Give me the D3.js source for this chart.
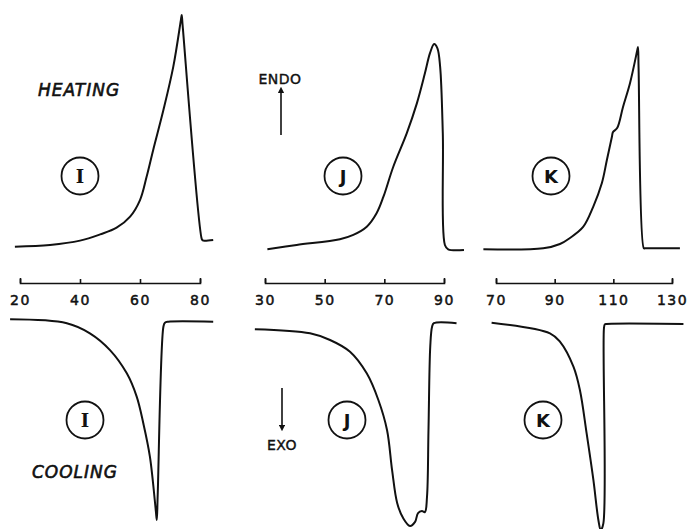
<!DOCTYPE html>
<html>
<head>
<meta charset="utf-8">
<script src="https://cdnjs.cloudflare.com/ajax/libs/d3/7.8.5/d3.min.js"></script>
<style>
body { margin: 0; background: #fff; }
text { fill: #111; }
</style>
</head>
<body>
<div id="chart"></div>
<script>
// tick labels (deg C) of the three temperature axes
var ticksI = [20, 40, 60, 80];
var ticksJ = [30, 50, 70, 90];
var ticksK = [70, 90, 110, 130];

// heating traces, [temperature, heat flow (arb. units, endo up)]
var heatI = [[18.3,1.4],[30,2.1],[40,3.9],[46.7,6.5],[52.2,9.3],[56.7,13.9],[60,20.8],[62.2,30.5],
    [64.4,41.7],[67.8,58.3],[71.1,76.4],[73.6,95.6],[73.9,97.9],[74.2,93.7],[80.6,4.5],[80.9,4.0],
    [81.7,3.9],[84.4,4.2]];
var heatJ = [[30.8,0.3],[40.6,2.1],[55.1,4.5],[59.6,6.3],[64.1,9.7],[67.4,15.3],[69.7,22.2],[73.0,34.7],
    [77.5,48.6],[80.9,61.1],[83.6,73.6],[85.3,82.0],[86.7,85.8],[87.8,84.0],[88.7,76.4],[89.6,48.6],
    [90.3,2.1],[91.4,0.3],[96.7,0]];
var heatK = [[65.7,0.3],[86.1,0.7],[91.8,2.5],[95.2,5.0],[99.7,9.6],[103.1,17.9],[106.1,27.9],[107.8,37.5],
    [109.5,47.1],[109.9,49.2],[111.3,50.8],[113.3,59.6],[115.7,69.6],[118.1,82.9],[118.4,84.6],
    [118.6,76.2],[120.4,0.7],[120.8,0.7],[132.7,0.7]];

// cooling traces, [temperature, heat flow (arb. units, exo down)]
var coolI = [[16.7,1.1],[35.6,-0.5],[43.3,-4.7],[50,-11.7],[55.6,-21.4],[58.9,-31.1],[61.1,-42.2],
    [63.3,-56.1],[65.3,-79.0],[65.6,-82.5],[65.9,-72.0],[67.8,-2.0],[68.3,-0.3],[69.4,0.1],[84.4,0.1]];
var coolJ = [[26.6,-3.0],[45.1,-4.7],[51.8,-7.5],[58.5,-12.4],[64.1,-21.4],[68.0,-32.5],[70.9,-45.0],
    [72.6,-61.7],[74.3,-75.4],[76.3,-81.7],[78.6,-85.0],[80.3,-83.3],[81.3,-79.6],[82.6,-78.8],
    [83.6,-79.2],[84.3,-72.9],[84.8,-45.0],[85.4,-10.0],[86.0,-2.0],[86.6,-0.5],[94.2,-0.5]];
var coolK = [[68.5,-0.3],[88.4,-4.7],[91.8,-8.2],[96.4,-18.6],[98.6,-28.3],[100.9,-46.4],[103.2,-65.8],
    [104.9,-82.5],[105.7,-86.7],[106.6,-83.9],[106.8,-2.6],[107.1,-1.0],[107.7,-0.8],[133.9,-0.8]];

var sampleNames = ["I", "J", "K"];

var width = 691, height = 529;
var axisY = 283;

// one entry per sample, layout only
var panels = [
    {name: sampleNames[0], ticks: ticksI, heat: heatI, cool: coolI, range: [20, 200], heatLabel: [80, 176], coolLabel: [85, 420], font: "DejaVu Serif"},
    {name: sampleNames[1], ticks: ticksJ, heat: heatJ, cool: coolJ, range: [265, 444], heatLabel: [343, 176], coolLabel: [347, 420], font: "DejaVu Sans"},
    {name: sampleNames[2], ticks: ticksK, heat: heatK, cool: coolK, range: [496, 672], heatLabel: [551, 176], coolLabel: [543, 420], font: "DejaVu Sans"}
];

var svg = d3.select("#chart").append("svg")
    .attr("width", width)
    .attr("height", height)
    .style("display", "block");

// heat flow scales shared by all panels
var yHeat = d3.scaleLinear().domain([0, 100]).range([250, 10]);
var yCool = d3.scaleLinear().domain([0, -100]).range([322, 562]);

//lettering look: thin outline on top of the glyph fill
function ink(sel, w) {
    return sel.attr("stroke", "#111").attr("stroke-width", w).attr("fill", "#111");
}

panels.forEach(function (p) {
    var x = d3.scaleLinear()
        .domain([p.ticks[0], p.ticks[p.ticks.length - 1]])
        .range(p.range);

    var g = svg.append("g");

    // temperature axis between the two traces, ticks pointing up
    var axis = g.append("g")
        .attr("transform", "translate(0," + axisY + ")")
        .call(d3.axisBottom(x).tickValues(p.ticks).tickSizeInner(-4).tickSizeOuter(-5).tickPadding(12));
    axis.selectAll("path, line").attr("stroke", "#111").attr("stroke-width", 1.6);
    ink(axis.selectAll("text"), 0.5)
        .attr("font-family", "DejaVu Sans")
        .attr("font-size", "14px")
        .attr("letter-spacing", "1.5px");

    var lineHeat = d3.line()
        .curve(d3.curveCatmullRom.alpha(0.5))
        .x(function (d) { return x(d[0]); })
        .y(function (d) { return yHeat(d[1]); });
    var lineCool = d3.line()
        .curve(d3.curveCatmullRom.alpha(0.5))
        .x(function (d) { return x(d[0]); })
        .y(function (d) { return yCool(d[1]); });

    g.append("path").datum(p.heat)
        .attr("d", lineHeat)
        .attr("fill", "none").attr("stroke", "#111").attr("stroke-width", 2)
        .attr("stroke-linejoin", "round");
    g.append("path").datum(p.cool)
        .attr("d", lineCool)
        .attr("fill", "none").attr("stroke", "#111").attr("stroke-width", 2)
        .attr("stroke-linejoin", "round");

    // circled sample letters
    [p.heatLabel, p.coolLabel].forEach(function (c) {
        g.append("circle")
            .attr("cx", c[0]).attr("cy", c[1]).attr("r", 18.5)
            .attr("fill", "none").attr("stroke", "#111").attr("stroke-width", 1.8);
        g.append("text")
            .attr("x", c[0]).attr("y", c[1] + 6.5)
            .attr("text-anchor", "middle")
            .attr("font-family", p.font)
            .attr("font-weight", "bold")
            .attr("font-size", "18px")
            .text(p.name);
    });
});

// HEATING / COOLING titles
ink(svg.append("text"), 0.6).attr("x", 79).attr("y", 96)
    .attr("text-anchor", "middle")
    .attr("font-family", "DejaVu Sans").attr("font-style", "italic")
    .attr("font-size", "17px").attr("letter-spacing", "1px")
    .text("HEATING");
ink(svg.append("text"), 0.6).attr("x", 75).attr("y", 478)
    .attr("text-anchor", "middle")
    .attr("font-family", "DejaVu Sans").attr("font-style", "italic")
    .attr("font-size", "17px").attr("letter-spacing", "1px")
    .text("COOLING");

// ENDO / EXO arrows
svg.append("defs").append("marker")
    .attr("id", "head")
    .attr("viewBox", "0 0 10 10")
    .attr("refX", 5).attr("refY", 5)
    .attr("markerWidth", 4).attr("markerHeight", 4)
    .attr("orient", "auto")
    .append("path").attr("d", "M0,0L10,5L0,10Z").attr("fill", "#111");

svg.append("line").attr("x1", 281).attr("y1", 135).attr("x2", 281).attr("y2", 90)
    .attr("stroke", "#111").attr("stroke-width", 1.6).attr("marker-end", "url(#head)");
ink(svg.append("text"), 0.4).attr("x", 280).attr("y", 84)
    .attr("text-anchor", "middle").attr("font-family", "DejaVu Sans")
    .attr("font-size", "14px").attr("letter-spacing", "0.5px").text("ENDO");

svg.append("line").attr("x1", 282).attr("y1", 388).attr("x2", 282).attr("y2", 428)
    .attr("stroke", "#111").attr("stroke-width", 1.6).attr("marker-end", "url(#head)");
ink(svg.append("text"), 0.4).attr("x", 282).attr("y", 450)
    .attr("text-anchor", "middle").attr("font-family", "DejaVu Sans")
    .attr("font-size", "14px").attr("letter-spacing", "0.5px").text("EXO");
</script>
</body>
</html>
